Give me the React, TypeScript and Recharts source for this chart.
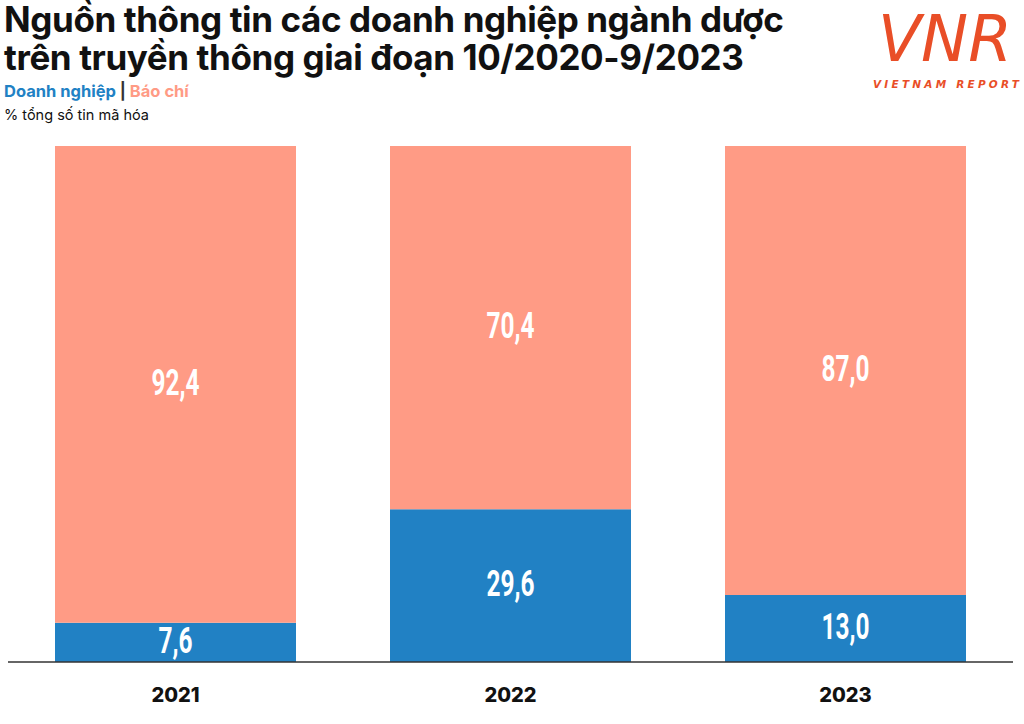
import type React from "react";
import { Bar, BarChart, LabelList, XAxis, YAxis } from "recharts";

const years = ["2021", "2022", "2023"];
const doanhNghiep = [7.6, 29.6, 13.0];
const baoChi = [92.4, 70.4, 87.0];

const BLUE = "#2181c4";
const SALMON = "#ff9b85";
const LOGO = "#e94e27";

const chartData = years.map((year, i) => ({
	year,
	doanhNghiep: doanhNghiep[i],
	baoChi: baoChi[i],
}));

const fmt = (v: unknown) => Number(v).toFixed(1).replace(".", ",");

function YearTick({ x, y, payload }: { x?: number; y?: number; payload?: { value: string } }) {
	return (
		<text
			x={x}
			y={(y ?? 0) + 27}
			textAnchor="middle"
			dominantBaseline="middle"
			fontFamily="Inter, 'Open Sans', sans-serif"
			fontWeight={800}
			fontSize={20}
			fill="#111"
		>
			{payload?.value}
		</text>
	);
}

// condensed look: squeeze a normal bold face horizontally
function ValueLabel(props: { x?: number; y?: number; width?: number; height?: number; value?: number }) {
	const { x = 0, y = 0, width = 0, height = 0, value } = props;
	const cx = x + width / 2;
	const cy = y + height / 2 + 1;
	return (
		<text
			transform={`translate(${cx},${cy}) scale(0.66,1)`}
			x={0}
			y={0}
			textAnchor="middle"
			dominantBaseline="middle"
			fontFamily="Roboto, 'DejaVu Sans', sans-serif"
			fontWeight={700}
			fontSize={37}
			fill="#fff"
		>
			{fmt(value)}
		</text>
	);
}

const App: React.FC = () => {
	return (
		<div
			style={{
				position: "absolute",
				top: 0,
				left: 0,
				width: 1024,
				height: 724,
				background: "#fff",
				fontFamily: "Inter, 'Open Sans', sans-serif",
			}}
		>
			<div
				style={{
					position: "absolute",
					left: 4,
					top: 0,
					fontSize: 35,
					fontWeight: 700,
					lineHeight: "38px",
					color: "#111",
					letterSpacing: -0.4,
					whiteSpace: "nowrap",
				}}
			>
				Nguồn thông tin các doanh nghiệp ngành dược
				<br />
				trên truyền thông giai đoạn 10/2020-9/2023
			</div>
			<div
				style={{
					position: "absolute",
					left: 4,
					top: 81,
					fontSize: 16.5,
					fontWeight: 700,
				}}
			>
				<span style={{ color: BLUE }}>Doanh nghiệp</span>
				<span style={{ color: "#333" }}> | </span>
				<span style={{ color: SALMON }}>Báo chí</span>
			</div>
			<div
				style={{
					position: "absolute",
					left: 4,
					top: 106,
					fontSize: 14.5,
					color: "#111",
				}}
			>
				% tổng số tin mã hóa
			</div>

			{/* logo */}
			<svg
				style={{ position: "absolute", left: 864, top: 0 }}
				width={160}
				height={96}
			>
				<text
					x={14}
					y={61}
					fontFamily="'DejaVu Sans', sans-serif"
					fontStyle="italic"
					fontWeight={400}
					fontSize={64}
					fill={LOGO}
					textLength={134}
					lengthAdjust="spacingAndGlyphs"
				>
					VNR
				</text>
				<text
					x={9}
					y={88}
					fontFamily="'DejaVu Sans', sans-serif"
					fontStyle="italic"
					fontWeight={700}
					fontSize={10.5}
					fill={LOGO}
					textLength={146}
					lengthAdjust="spacing"
				>
					VIETNAM REPORT
				</text>
			</svg>

			<div style={{ position: "absolute", left: 0, top: 0 }}>
				<BarChart
					width={1024}
					height={724}
					data={chartData}
					margin={{ top: 146, right: 11, left: 8, bottom: 22 }}
					barSize={241}
				>
					<YAxis hide domain={[0, 100]} />
					<XAxis
						dataKey="year"
						height={40}
						axisLine={{ stroke: "#333", strokeWidth: 1.5 }}
						tickLine={false}
						tick={<YearTick />}
						interval={0}
					/>
					<Bar
						dataKey="doanhNghiep"
						stackId="a"
						fill={BLUE}
						isAnimationActive={false}
					>
						<LabelList dataKey="doanhNghiep" content={<ValueLabel />} />
					</Bar>
					<Bar
						dataKey="baoChi"
						stackId="a"
						fill={SALMON}
						isAnimationActive={false}
					>
						<LabelList dataKey="baoChi" content={<ValueLabel />} />
					</Bar>
				</BarChart>
			</div>
		</div>
	);
};

export default App;
